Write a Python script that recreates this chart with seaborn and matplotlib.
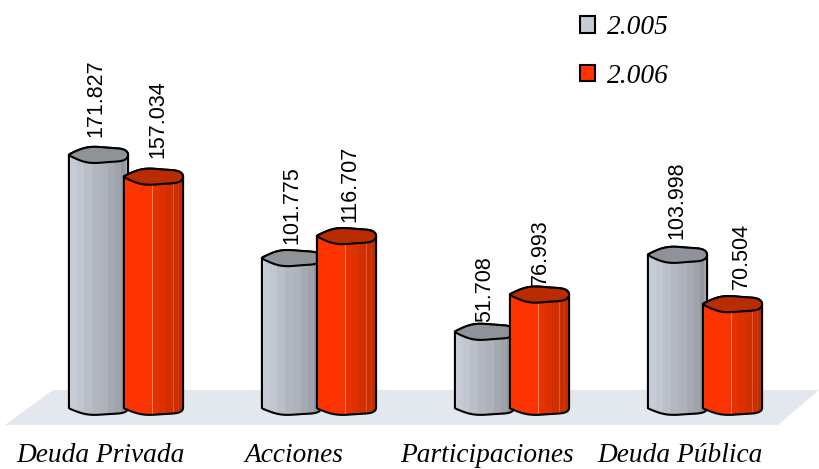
import numpy as np
import pandas as pd
import matplotlib
matplotlib.use('Agg')
import matplotlib.pyplot as plt
import seaborn as sns
from matplotlib.patches import Polygon
from matplotlib.transforms import ScaledTranslation

categorias = ['Deuda Privada', 'Acciones', 'Participaciones', 'Deuda Pública']
valores_2005 = [171.827, 101.775, 51.708, 103.998]
valores_2006 = [157.034, 116.707, 76.993, 70.504]
anios = ['2.005', '2.006']

df = pd.DataFrame({
    'Categoria': categorias * 2,
    'Valor': valores_2005 + valores_2006,
    'Anio': [anios[0]] * 4 + [anios[1]] * 4,
})

# franjas verticales de cada cilindro (color, ancho relativo)
franjas_gris = [('#c6ccd4', 8), ('#c1c7cf', 7), ('#b9bec7', 8), ('#b1b6bf', 8), ('#adb2bb', 8),
                ('#a5aab2', 7), ('#9ea2a9', 6), ('#93979d', 4), ('#a2a6ac', 2), ('#8f9298', 1)]
franjas_rojo = [('#ff3300', 15), ('#fb3300', 13), ('#ff8a60', 1), ('#e63200', 6), ('#dc3000', 7),
                ('#d02f00', 7), ('#e0582c', 1), ('#c82e00', 4), ('#d83a10', 1), ('#bf2c00', 4)]
tapa = {'2.005': '#8f9398', '2.006': '#b82c00'}

sns.set_style('white')
fig = plt.figure(figsize=(8.19, 4.69), dpi=100)
ax = fig.add_axes([29.5 / 819, 61 / 469, 772 / 819, 408 / 469])
ax.patch.set_alpha(0)

# suelo del grafico
suelo = [(5, 425), (53, 390), (819, 390), (778, 425)]
fig.add_artist(Polygon([(x / 819, 1 - y / 469) for x, y in suelo], closed=True,
                       transform=fig.transFigure, facecolor='#e3e8ef', edgecolor='none', zorder=-5))

sns.barplot(data=df, x='Categoria', y='Valor', hue='Anio', palette=['#c6ccd4', '#ff3300'],
            saturation=1, width=0.57, gap=0, edgecolor='black', linewidth=1.5, ax=ax)


def borde(t, cx, cy, a, b):
    # elipse algo ondulada, como en el original
    x = cx + a * (np.cos(t) + 0.02 * np.cos(3 * t))
    y = cy + b * (np.sin(t) + 0.10 * np.sin(2 * t) + 0.10 * np.sin(4 * t))
    return np.column_stack([x, y])


# ajuste fino de las etiquetas, en pixeles
label_dx = [[-3, 0, 0, -1], [4, 3, 1, 9]]
label_pad = [[18, 14, 10, 16], [19, 14, 10, 15]]
for n, cont in enumerate(ax.containers):
    franjas = franjas_gris if n == 0 else franjas_rojo
    fila = [matplotlib.colors.to_rgb(c) for c, r in franjas for _ in range(r)]
    rgb = np.array([fila])
    for i, bar in enumerate(cont):
        w = bar.get_width() * 58 / 55
        cx = bar.get_x() + bar.get_width() / 2
        a = w / 2
        top = bar.get_height()
        bar.set_visible(False)
        z = 2 + n * 2
        inferior = borde(np.linspace(np.pi, 2 * np.pi, 40), cx, 0, a, 4.6)
        superior = borde(np.linspace(0, np.pi, 40), cx, top, a, 5.4)
        cuerpo = Polygon(np.vstack([inferior, superior]), closed=True, facecolor='none',
                         edgecolor='black', linewidth=1.5, zorder=z + 0.5, clip_on=False)
        ax.add_patch(cuerpo)
        img = ax.imshow(rgb, extent=(cx - a, cx + a, -10, top + 10), aspect='auto',
                        interpolation='nearest', zorder=z, clip_on=True)
        img.set_clip_box(fig.bbox)
        img.set_clip_path(cuerpo)
        ax.add_patch(Polygon(borde(np.linspace(0, 2 * np.pi, 80), cx, top, a, 5.4), closed=True,
                             facecolor=tapa[anios[n]], edgecolor='black', linewidth=1.5, zorder=z + 1))
        ax.annotate(f'{top:.3f}', (cx, top), xytext=(label_dx[n][i] * 0.72, label_pad[n][i] * 0.72),
                    textcoords='offset points', rotation=90, ha='center', va='bottom',
                    fontsize=15.5, family='Liberation Sans', color='black', zorder=10)

ax.set_xlim(-0.5, 3.5)
ax.set_ylim(0, 277)
sns.despine(ax=ax, left=True, bottom=True)
ax.set_xlabel('')
ax.set_ylabel('')
ax.set_yticks([])
ax.tick_params(axis='x', length=0, pad=25.5, colors='black')
desplazar = ScaledTranslation(-25 / 100, 0, fig.dpi_scale_trans)
for lab in ax.get_xticklabels():
    lab.set_fontfamily('Liberation Serif')
    lab.set_fontstyle('italic')
    lab.set_fontsize(19.7)
    lab.set_transform(lab.get_transform() + desplazar)

handles, labels = ax.get_legend_handles_labels()
ax.legend(handles, labels, loc='upper left', bbox_to_anchor=(580 / 819, 1 - 15 / 469),
          bbox_transform=fig.transFigure, frameon=False, ncol=1, labelspacing=0.87,
          handlelength=0.56, handleheight=0.56, handletextpad=0.44, borderpad=0, borderaxespad=0,
          labelcolor='black', prop={'family': 'Liberation Serif', 'style': 'italic', 'size': 19.7})

fig.savefig('out.png', dpi=100)
